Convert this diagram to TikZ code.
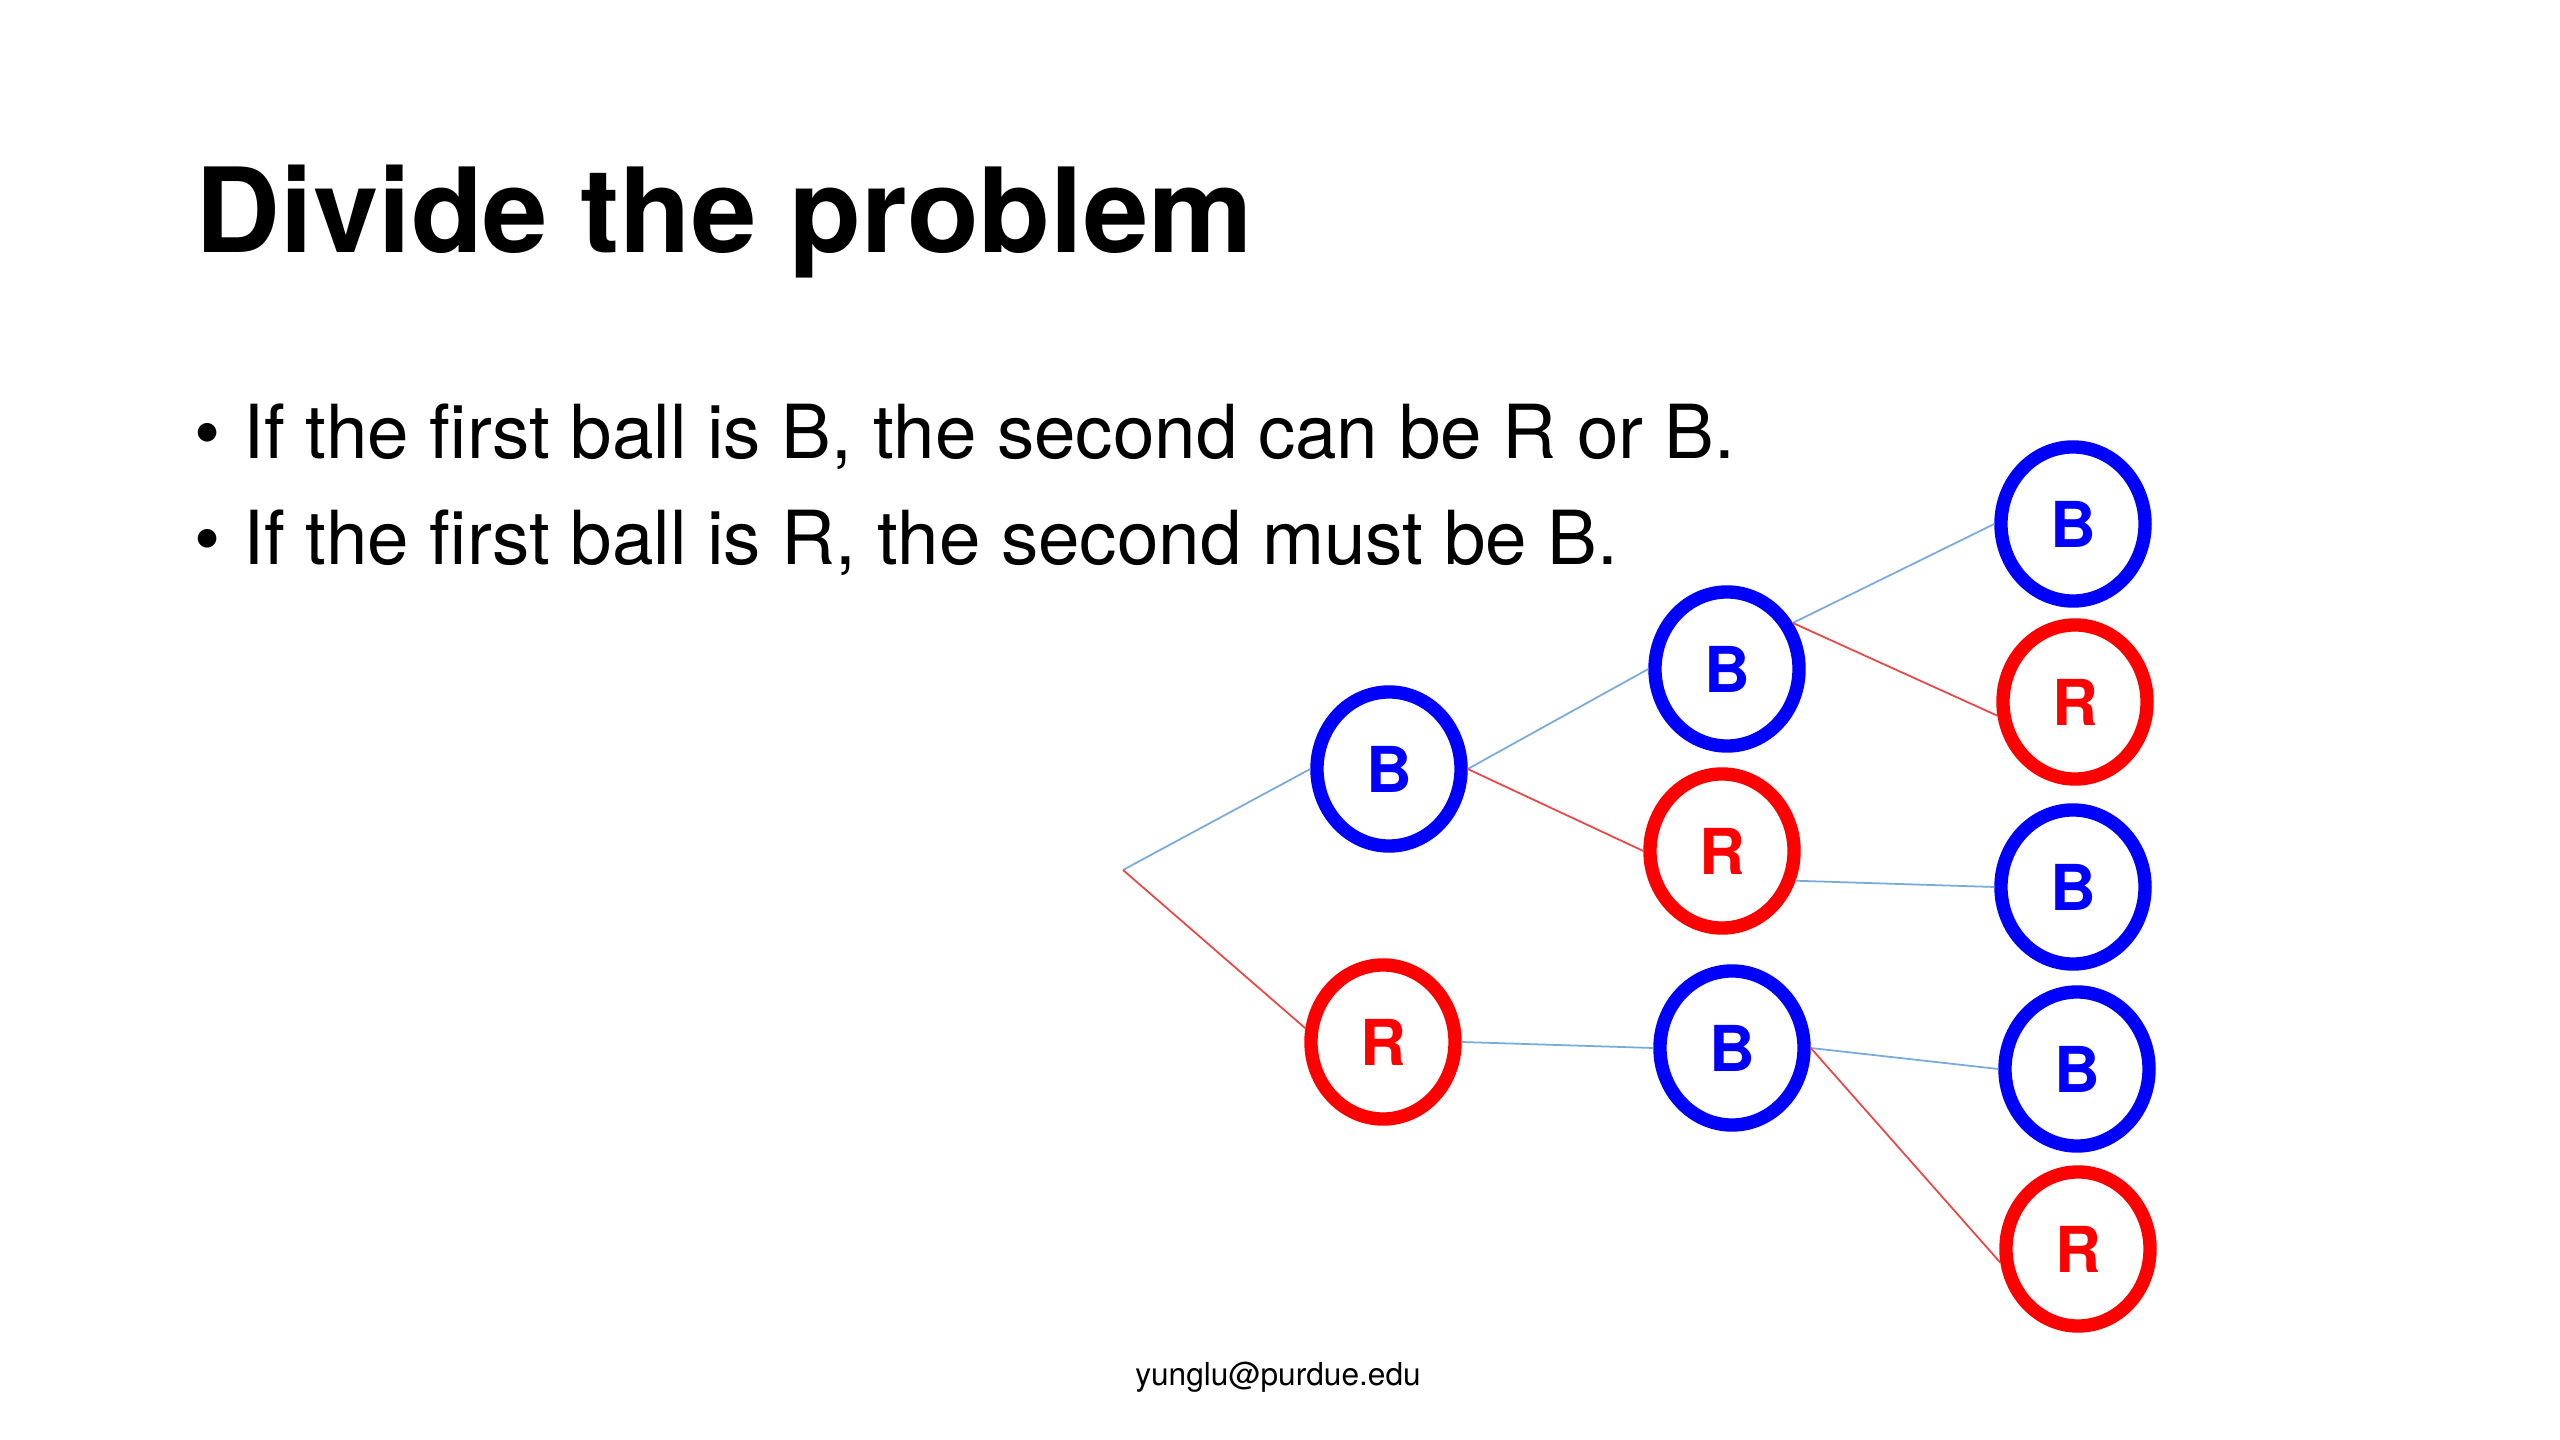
\documentclass[tikz,border=0pt]{standalone}
\usepackage{fontspec}
\setmainfont{TeX Gyre Heros}
\usepackage{xcolor}
\usetikzlibrary{shapes.geometric, positioning}

\definecolor{bluelink}{RGB}{120,170,220}
\definecolor{redlink}{RGB}{235,70,70}

\tikzset{
  ball/.style={ellipse, draw, line width=3.8pt, minimum width=1.44cm, minimum height=1.54cm,
    inner sep=0pt, font=\fontsize{18}{18}\selectfont\bfseries},
  blueball/.style={ball, draw=blue, text=blue},
  redball/.style={ball, draw=red, text=red},
  bline/.style={draw=bluelink, line width=0.5pt},
  rline/.style={draw=redlink, line width=0.5pt},
  slidetext/.style={anchor=base west, inner sep=0pt},
}

\begin{document}
\begin{tikzpicture}[x=0.01cm, y=-0.01cm]
    \useasboundingbox (0,0) rectangle (2560,1440);

    % slide text
    \node[slidetext, font=\fontsize{33.4}{33.4}\selectfont\bfseries] (title) at (195,253) {Divide the problem};
    \node[slidetext, font=\fontsize{21.2}{21.2}\selectfont] (line1) at (194,459)
        {\makebox[0.49cm][l]{\textbullet}If the first ball is B, the second can be R or B.};
    \node[slidetext, font=\fontsize{21.2}{21.2}\selectfont] (line2) at (194,565)
        {\makebox[0.49cm][l]{\textbullet}If the first ball is R, the second must be B.};
    \node[anchor=base, font=\fontsize{9}{9}\selectfont] (mail) at (1278,1385) {yunglu@purdue.edu};

    % tree of balls
    \coordinate (root) at (1123,870);
    \node[blueball] (b1) at (1389,769) {B};
    \node[redball] (r1) at (1383,1042) {R};

    \node[blueball] (bb) at (1727,669) {B};
    \node[redball] (br) at (1722,851) {R};
    \node[blueball] (rb) at (1732,1048) {B};

    \node[blueball] (bbb) at (2073,524) {B};
    \node[redball] (bbr) at (2075,702) {R};
    \node[blueball] (brb) at (2073,887) {B};
    \node[blueball] (rbb) at (2077,1069) {B};
    \node[redball] (rbr) at (2078,1249) {R};

    \path (root) edge[bline] (b1.west)
      (root) edge[rline] (r1.170)
      (b1.east) edge[bline] (bb.west)
      (b1.east) edge[rline] (br.west)
      (r1.east) edge[bline] (rb.west)
      (bb.35) edge[bline] (bbb.west)
      (bb.35) edge[rline] (bbr.190)
      (br.-22) edge[bline] (brb.west)
      (rb.east) edge[bline] (rbb.west)
      (rb.east) edge[rline] (rbr.190);
    %	\draw (root) -- (b1);

\end{tikzpicture}
\end{document}
